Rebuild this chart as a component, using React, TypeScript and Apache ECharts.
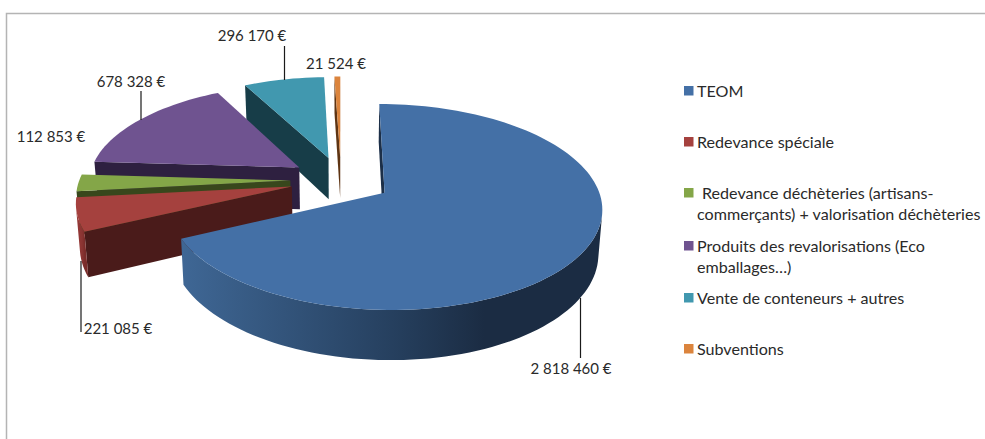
import React, { useEffect, useRef } from "react";
import * as echarts from "echarts";

// Budget categories, in legend order, clockwise from twelve o'clock.
const categories = [
  "TEOM",
  "Redevance spéciale",
  "Redevance déchèteries (artisans-\ncommerçants) + valorisation déchèteries",
  "Produits des revalorisations (Eco\nemballages…)",
  "Vente de conteneurs + autres",
  "Subventions",
];
const amounts = [2818460, 221085, 112853, 678328, 296170, 21524];

const topColors = ["#4470a6", "#a5413e", "#84a648", "#6f5390", "#4198af", "#db843d"];
const cutColors = ["#1c2f48", "#4a1b1a", "#38471c", "#2e2040", "#173d48", "#5e3413"];
const rimLightColors = ["#3f6795", "#9a3b39", "#4a5e25", "#3c2b52", "#1f5161", "#7d4519"];
const rimMidColors = ["#26405f", "#8a3432", "#38471c", "#2e2040", "#173d48", "#5e3413"];
const rimDarkColors = ["#1b2c43", "#7a2c2a", "#38471c", "#2e2040", "#173d48", "#5e3413"];

const FONT = "Lato";

// Projection of the exploded, tilted pie onto the page.
const CX = 341;
const CY = 180;
const SCALE_X = 211;
const SCALE_Y = 97.5;
const PERSPECTIVE = 0.136;
const EXPLODE = 0.24;
const DEPTH = 42.5;
const DEPTH_CONVERGE = 0.985;

type Pt = [number, number];

function project(u: number, v: number): Pt {
  const w = 1 + PERSPECTIVE * v;
  return [CX + (SCALE_X * u) / w, CY - (SCALE_Y * v) / w];
}

function drop(u: number, v: number): Pt {
  const w = 1 + PERSPECTIVE * v;
  const [x, y] = project(u, v);
  return [CX + (x - CX) * DEPTH_CONVERGE, y + DEPTH / w];
}

function signedArea(pts: Pt[]): number {
  let a = 0;
  pts.forEach((p, i) => {
    const q = pts[(i + 1) % pts.length];
    a += p[0] * q[1] - q[0] * p[1];
  });
  return a / 2;
}

const total = amounts.reduce((s, a) => s + a, 0);

// Faces of one slice: visible cut walls, then the visible rim, then the top.
function sliceElements(index: number) {
  const before = amounts.slice(0, index).reduce((s, a) => s + a, 0);
  const start = (before / total) * 2 * Math.PI;
  const end = ((before + amounts[index]) / total) * 2 * Math.PI;
  const mid = (start + end) / 2;
  const ou = EXPLODE * Math.sin(mid);
  const ov = EXPLODE * Math.cos(mid);

  const arc: { u: number; v: number }[] = [];
  const steps = Math.max(2, Math.ceil(((end - start) * 180) / Math.PI / 2));
  for (let i = 0; i <= steps; i++) {
    const t = start + ((end - start) * i) / steps;
    arc.push({ u: ou + Math.sin(t), v: ov + Math.cos(t) });
  }
  const apex = { u: ou, v: ov };

  const wall = (a: { u: number; v: number }, b: { u: number; v: number }): Pt[] => [
    project(a.u, a.v),
    project(b.u, b.v),
    drop(b.u, b.v),
    drop(a.u, a.v),
  ];

  const elements: any[] = [];
  [wall(apex, arc[0]), wall(arc[arc.length - 1], apex)].forEach((quad) => {
    if (signedArea(quad) < 0) {
      elements.push({
        type: "polygon",
        shape: { points: quad },
        style: { fill: cutColors[index] },
      });
    }
  });

  // The part of the rim that faces the viewer, as one shaded band.
  const visible = arc.filter((a, i) => i < arc.length - 1 && signedArea(wall(a, arc[i + 1])) < 0);
  if (visible.length > 0) {
    const first = arc.indexOf(visible[0]);
    const band = arc.slice(first, first + visible.length + 1);
    const points = [
      ...band.map((p) => project(p.u, p.v)),
      ...band.map((p) => drop(p.u, p.v)).reverse(),
    ];
    elements.push({
      type: "polygon",
      shape: { points },
      style: {
        fill: new echarts.graphic.LinearGradient(0, 0, 1, 0, [
          { offset: 0, color: rimLightColors[index] },
          { offset: 0.5, color: rimMidColors[index] },
          { offset: 0.72, color: rimDarkColors[index] },
          { offset: 1, color: rimDarkColors[index] },
        ]),
      },
    });
  }

  elements.push({
    type: "polygon",
    shape: { points: [apex, ...arc].map((p) => project(p.u, p.v)) },
    style: { fill: topColors[index] },
  });
  return elements;
}

const formatAmount = (n: number) =>
  n.toString().replace(/\B(?=(\d{3})+$)/g, " ") + " €";

// Nearest slices paint last, so the series runs from Subventions back to TEOM.
const paintOrder = categories.map((_, i) => categories.length - 1 - i);

export default function App() {
  const ref = useRef<HTMLDivElement>(null);

  useEffect(() => {
    document.body.style.margin = "0";
    const chart = echarts.init(ref.current as HTMLDivElement, undefined, { renderer: "svg" });

    const amountLabel = (i: number, x: number, y: number) => ({
      type: "text",
      x,
      y,
      z: 10,
      style: {
        text: formatAmount(amounts[i]),
        font: `15px ${FONT}`,
        fill: "#2a2a2a",
        textAlign: "center",
        textVerticalAlign: "middle",
      },
    });
    const leader = (x1: number, y1: number, x2: number, y2: number) => ({
      type: "line",
      z: 10,
      shape: { x1, y1, x2, y2 },
      style: { stroke: "#1a1a1a", lineWidth: 1.2 },
    });

    const legendRows = [
      { i: 0, y: 91, x: 697 },
      { i: 1, y: 142, x: 697 },
      { i: 2, y: 193, x: 702 },
      { i: 3, y: 246, x: 697 },
      { i: 4, y: 298, x: 697 },
      { i: 5, y: 349, x: 697 },
    ];
    const legendItems: any[] = [];
    legendRows.forEach(({ i, y, x }) => {
      legendItems.push({
        type: "rect",
        z: 10,
        shape: { x: 684, y: y - 5, width: 9.5, height: 9.5 },
        style: { fill: topColors[i] },
      });
      categories[i].split("\n").forEach((line, k) => {
        legendItems.push({
          type: "text",
          z: 10,
          x: k === 0 ? x : 697,
          y: y - 1 + k * 21,
          style: {
            text: line,
            font: `16.1px ${FONT}`,
            fill: "#2a2a2a",
            textVerticalAlign: "middle",
          },
        });
      });
    });

    chart.setOption({
      animation: false,
      backgroundColor: "#ffffff",
      series: [
        {
          type: "custom",
          coordinateSystem: "none",
          data: paintOrder.map((i) => [i, amounts[i]]),
          silent: true,
          renderItem: (_params: any, api: any) => ({
            type: "group",
            children: sliceElements(api.value(0)),
          }),
        },
      ],
      graphic: [
        {
          type: "polyline",
          z: 1,
          shape: { points: [[6.5, 439], [6.5, 13.5], [985, 13.5]] },
          style: { fill: "none", stroke: "#b4b4b4", lineWidth: 1.5 },
        },
        amountLabel(0, 571, 368),
        amountLabel(1, 118, 328),
        amountLabel(2, 51, 136),
        amountLabel(3, 131, 81),
        amountLabel(4, 252, 35),
        amountLabel(5, 336, 63),
        leader(580.5, 298, 580.5, 358),
        leader(81, 261, 81, 332),
        leader(141, 91, 141, 120),
        leader(284.5, 46, 284.5, 80),
        ...legendItems,
      ],
    });

    return () => chart.dispose();
  }, []);

  return <div ref={ref} style={{ width: 985, height: 439 }} />;
}
